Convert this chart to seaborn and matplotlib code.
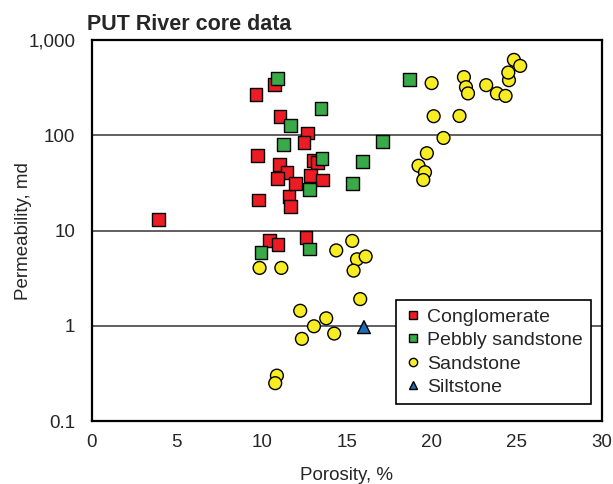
import pandas as pd
import matplotlib.pyplot as plt
import seaborn as sns
from matplotlib.ticker import FixedLocator, NullLocator

# core plug data: porosity (%) and permeability (md)
conglomerate_phi = [3.9, 9.65, 10.74, 11.06, 9.74, 11.04, 11.47, 10.92, 11.59, 11.7, 9.82,
                    12.68, 12.47, 13.04, 13.27, 11.96, 12.86, 13.55, 10.45, 10.94, 12.59]
conglomerate_k = [13, 267, 345, 158, 61, 49, 40.5, 35, 23, 18, 21,
                  106, 84, 55, 52, 31.5, 37.6, 34, 7.9, 7.1, 8.5]

pebbly_phi = [10.9, 11.67, 11.27, 18.68, 13.47, 17.08, 15.92, 15.33, 13.53, 12.8, 9.94, 12.78]
pebbly_k = [396, 126, 81, 383, 193, 87, 53, 31, 57, 27, 5.9, 6.4]

sandstone_phi = [19.98, 21.88, 22.0, 22.12, 23.19, 23.82, 24.33, 24.53, 24.49, 24.82, 25.19,
                 20.1, 21.62, 20.68, 19.7, 19.21, 19.59, 19.49,
                 9.86, 11.14, 14.37, 15.31, 15.59, 16.1, 15.39, 15.78,
                 12.25, 13.78, 13.06, 14.25, 12.35, 10.88, 10.78]
sandstone_k = [354, 410, 321, 276, 337, 276, 260, 380, 457, 621, 537,
               159, 160, 94, 65, 48, 41, 34,
               4.06, 4.06, 6.2, 7.8, 5.0, 5.35, 3.8, 1.91,
               1.44, 1.2, 0.99, 0.83, 0.73, 0.30, 0.25]

siltstone_phi = [16.0]
siltstone_k = [0.97]

lithologies = ["Conglomerate", "Pebbly sandstone", "Sandstone", "Siltstone"]
colors = ["#EC1C24", "#39AA48", "#F8EC22", "#1B6DB5"]
markers = ["s", "s", "o", "^"]

df = pd.concat([
    pd.DataFrame({"phi": conglomerate_phi, "k": conglomerate_k, "rock": "Conglomerate"}),
    pd.DataFrame({"phi": pebbly_phi, "k": pebbly_k, "rock": "Pebbly sandstone"}),
    pd.DataFrame({"phi": sandstone_phi, "k": sandstone_k, "rock": "Sandstone"}),
    pd.DataFrame({"phi": siltstone_phi, "k": siltstone_k, "rock": "Siltstone"}),
], ignore_index=True)

sns.set_style("white")
plt.rcParams['font.family'] = ['Liberation Sans', 'DejaVu Sans']

fig = plt.figure(figsize=(6.13, 4.84), dpi=100)
ax = fig.add_axes([0.150, 0.130, 0.832, 0.787])

for y in [1, 10, 100]:
    ax.axhline(y, color="#444444", lw=1.2, zorder=0)

sns.scatterplot(data=df, x="phi", y="k", hue="rock", style="rock",
                hue_order=lithologies, style_order=lithologies,
                palette=dict(zip(lithologies, colors)),
                markers=dict(zip(lithologies, markers)),
                s=85, edgecolor="black", linewidth=1.0, ax=ax, zorder=3)

ax.set_yscale("log")
ax.set_xlim(0, 30)
ax.set_ylim(0.1, 1000)
ax.set_xticks(range(0, 31, 5))
ax.yaxis.set_major_locator(FixedLocator([0.1, 1, 10, 100, 1000]))
ax.yaxis.set_minor_locator(NullLocator())
ax.set_yticklabels(["0.1", "1", "10", "100", "1,000"])
ax.tick_params(axis="both", which="major", direction="inout", length=8, width=1.2,
               labelsize=13.5, color="black", pad=5)
ax.tick_params(axis="y", direction="out", length=6, pad=6)
for sp in ax.spines.values():
    sp.set_color("black")
    sp.set_linewidth(1.6)

ax.set_xlabel("Porosity, %", fontsize=13.5, labelpad=12)
ax.set_ylabel("Permeability, md", fontsize=13.5, labelpad=-3)
ax.set_title("PUT River core data", fontsize=15.5, fontweight="bold", loc="left", x=-0.01, pad=7)

leg = ax.legend(loc="lower right", bbox_to_anchor=(0.978, 0.045), borderaxespad=0,
                fontsize=14, frameon=True, fancybox=False, edgecolor="black", framealpha=1,
                handletextpad=0.3, borderpad=0.4, labelspacing=0.3, handlelength=0.9,
                markerscale=0.65)
leg.get_frame().set_linewidth(1.2)

fig.savefig("out.png", dpi=100)
